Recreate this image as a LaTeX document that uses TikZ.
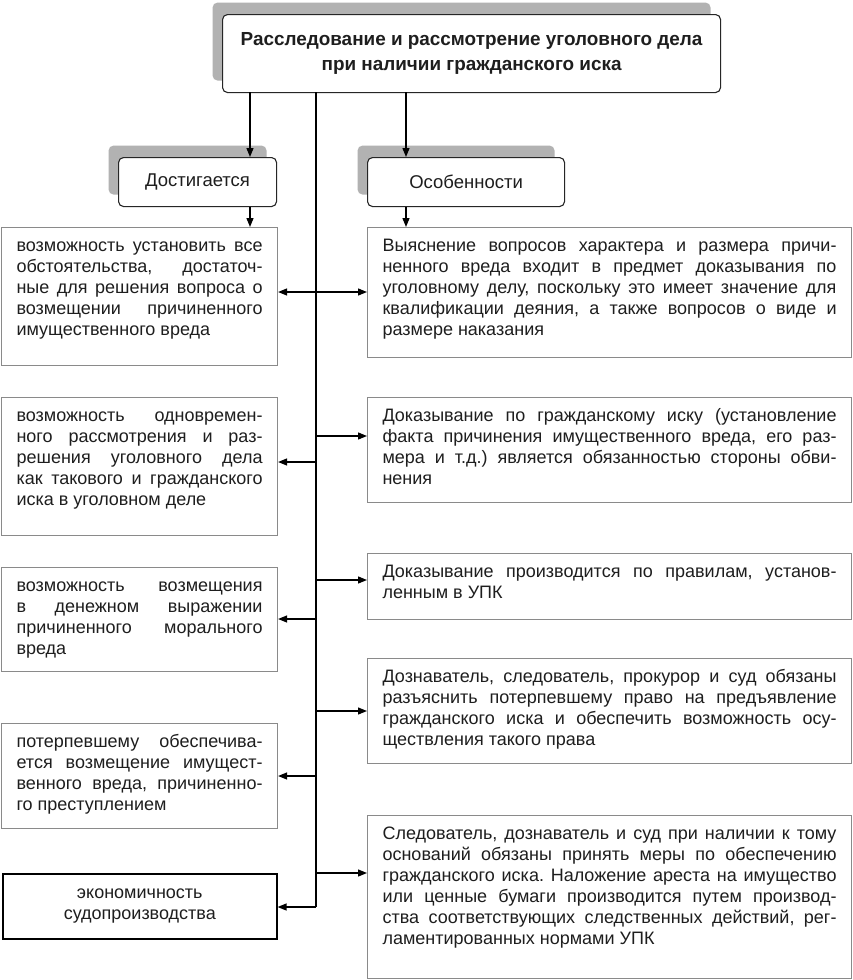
\documentclass[tikz,border=0pt]{standalone}
\usepackage{fontspec}
\setmainfont{Liberation Sans}
\usetikzlibrary{arrows.meta,shadows}
\definecolor{boxgrey}{HTML}{8A8A8A}
\definecolor{shadowc}{HTML}{B2B2B2}
\definecolor{textc}{HTML}{1E1E1E}
\newcommand\bodytext[3]{\parbox[c][#2][t]{#1}{\fontsize{18}{21}\selectfont\frenchspacing\hyphenpenalty=10000 \tolerance=10000 \emergencystretch=20pt\vspace*{9pt}\noindent\strut #3}}
\tikzset{
  gbox/.style={draw=boxgrey, line width=1.1pt, inner xsep=15pt, inner ysep=0pt, anchor=north west, text=textc, fill=white},
  headbox/.style={draw=black!85, line width=1.1pt, rounded corners=5pt, fill=white, text=textc, anchor=north west, align=center,
     drop shadow={shadow xshift=-10pt, shadow yshift=12pt, fill=shadowc, opacity=1}},
  arr/.style={-{Triangle[length=9pt,width=7pt]}, line width=1.3pt, draw=black},
  darr/.style={{Triangle[length=9pt,width=7pt]}-{Triangle[length=9pt,width=7pt]}, line width=1.3pt, draw=black},
  trunkline/.style={line width=1.3pt, draw=black}
}
\begin{document}
\begin{tikzpicture}[x=1pt,y=-1pt]
\useasboundingbox (0,0) rectangle (852,980);
\fill[white] (0,0) rectangle (852,980);

% header boxes
\node[headbox, minimum width=498pt, minimum height=78pt, inner sep=0pt, font={\fontsize{18.9}{25}\selectfont\bfseries}] (top) at (222,14)
  {Расследование и рассмотрение уголовного дела\\при наличии гражданского иска};
\node[headbox, minimum width=158pt, minimum height=49pt, inner sep=0pt, font={\fontsize{18.5}{21}\selectfont}] (dost) at (118,157)
  {Достигается};
\node[headbox, minimum width=197pt, minimum height=49pt, inner sep=0pt, font={\fontsize{18.5}{21}\selectfont}] (osob) at (367,157)
  {Особенности};

% left column
\node[gbox] (L1) at (1,227) {\bodytext{246pt}{138pt}{возможность установить все\linebreak обстоятельства, достаточ-\linebreak ные для решения вопроса о\linebreak возмещении причиненного\linebreak имущественного вреда}};
\node[gbox] (L2) at (1,397) {\bodytext{246pt}{138pt}{возможность одновремен-\linebreak ного рассмотрения и раз-\linebreak решения уголовного дела\linebreak как такового и гражданского\linebreak иска в уголовном деле}};
\node[gbox] (L3) at (1,567) {\bodytext{246pt}{104pt}{возможность возмещения\linebreak в денежном выражении\linebreak причиненного морального\linebreak вреда}};
\node[gbox] (L4) at (1,723) {\bodytext{246pt}{105pt}{потерпевшему обеспечива-\linebreak ется возмещение имущест-\linebreak венного вреда, причиненно-\linebreak го преступлением}};
\node[draw=black, line width=1.6pt, fill=white, text=textc, anchor=north west, minimum width=274pt, minimum height=65pt, inner sep=0pt, align=center, font={\fontsize{18}{21}\selectfont}] (L5) at (2,873)
  {экономичность\\судопроизводства};

% right column
\node[gbox] (R1) at (367,227) {\bodytext{454pt}{130pt}{Выяснение вопросов характера и размера причи-\linebreak ненного вреда входит в предмет доказывания по\linebreak уголовному делу, поскольку это имеет значение для\linebreak квалификации деяния, а также вопросов о виде и\linebreak размере наказания}};
\node[gbox] (R2) at (367,397) {\bodytext{454pt}{105pt}{Доказывание по гражданскому иску (установление\linebreak факта причинения имущественного вреда, его раз-\linebreak мера и т.д.) является обязанностью стороны обви-\linebreak нения}};
\node[gbox] (R3) at (367,553) {\bodytext{454pt}{66pt}{Доказывание производится по правилам, установ-\linebreak ленным в УПК}};
\node[gbox] (R4) at (367,658) {\bodytext{454pt}{105pt}{Дознаватель, следователь, прокурор и суд обязаны\linebreak разъяснить потерпевшему право на предъявление\linebreak гражданского иска и обеспечить возможность осу-\linebreak ществления такого права}};
\node[gbox] (R5) at (367,815) {\bodytext{454pt}{163pt}{Следователь, дознаватель и суд при наличии к тому\linebreak оснований обязаны принять меры по обеспечению\linebreak гражданского иска. Наложение ареста на имущество\linebreak или ценные бумаги производится путем производ-\linebreak ства соответствующих следственных действий, рег-\linebreak ламентированных нормами УПК}};

% connectors
\coordinate (ca) at (250,92);
\coordinate (cb) at (406,92);
\coordinate (t0) at (316,92);
\coordinate (t9) at (316,907);
\draw[arr] (ca) -- (ca |- dost.north);
\draw[arr] (cb) -- (cb |- osob.north);
\draw[arr] (ca |- dost.south) -- (ca |- L1.north);
\draw[arr] (cb |- osob.south) -- (cb |- R1.north);
\draw[trunkline] (t0) -- (t9);

\coordinate (b1) at (316,292);
\coordinate (b2) at (316,436);
\coordinate (b3) at (316,462);
\coordinate (b4) at (316,580);
\coordinate (b5) at (316,619);
\coordinate (b6) at (316,711);
\coordinate (b7) at (316,776);
\coordinate (b8) at (316,873);
\draw[darr] (b1 -| L1.east) -- (b1 -| R1.west);
\draw[arr] (b2) -- (b2 -| R2.west);
\draw[arr] (b3) -- (b3 -| L2.east);
\draw[arr] (b4) -- (b4 -| R3.west);
\draw[arr] (b5) -- (b5 -| L3.east);
\draw[arr] (b6) -- (b6 -| R4.west);
\draw[arr] (b7) -- (b7 -| L4.east);
\draw[arr] (b8) -- (b8 -| R5.west);
\draw[arr] (t9) -- (t9 -| L5.east);
\end{tikzpicture}
\end{document}
